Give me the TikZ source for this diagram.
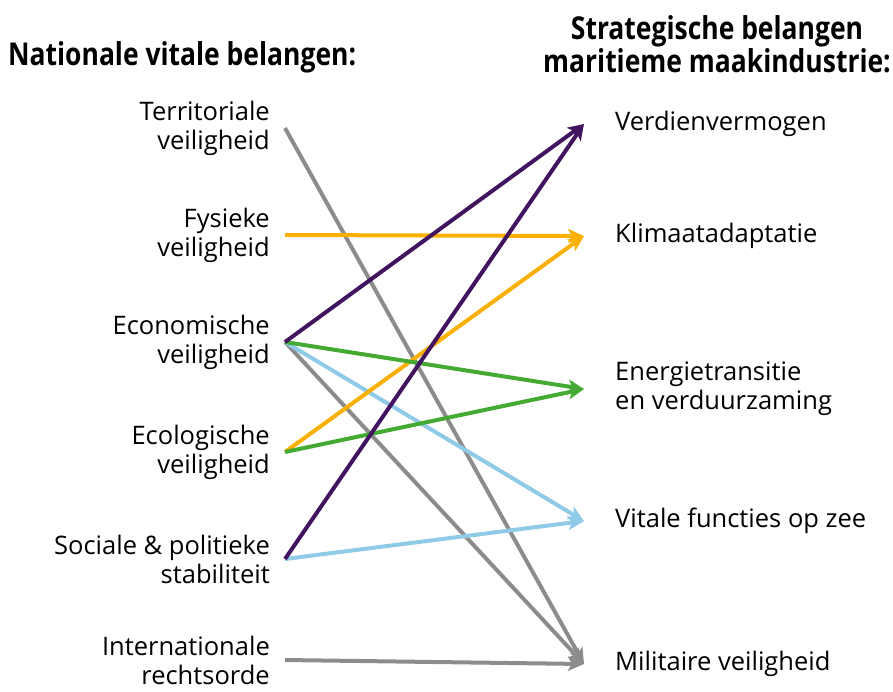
\documentclass[tikz,border=0pt]{standalone}
\usepackage{fontspec}
\setmainfont{Open Sans}
\usepackage{xcolor}
\usetikzlibrary{arrows.meta,positioning,calc}
\definecolor{rpurple}{HTML}{42145F}
\definecolor{rorange}{HTML}{F9B000}
\definecolor{rgreen}{HTML}{44AA33}
\definecolor{rblue}{HTML}{8FCAE7}
\definecolor{rgray}{HTML}{8C8C8C}
\tikzset{%
  vital/.style={
    anchor=east,
    align=right,
    inner xsep=15pt,
    inner ysep=0pt,
    font=\fontsize{25.5}{29}\selectfont
  },
  belang/.style={
    anchor=west,
    align=left,
    inner xsep=31pt,
    inner ysep=0pt,
    font=\fontsize{25.5}{29}\selectfont
  },
  kop/.style={
    align=center,
    inner sep=0pt,
    font=\fontsize{31.5}{30}\selectfont\bfseries
  },
  link/.style={
    line width=4pt,
    -{Stealth[length=16pt,width=14pt,inset=4pt]}
  },
}
\begin{document}
\begin{tikzpicture}[x=1pt,y=-1pt]
  \useasboundingbox (0,0) rectangle (893,691);
  % headings
  \node[kop,anchor=west] (kopL) at (8,57) {\scalebox{0.84}[1]{Nationale vitale belangen:}};
  \node[kop,anchor=east] (kopR) at (891,44) {\scalebox{0.84}[1]{Strategische belangen}\\\scalebox{0.84}[1]{maritieme maakindustrie:}};
  % national vital interests
  \node[vital] (ter) at (285,128) {Territoriale\\veiligheid};
  \node[vital] (fys) at (285,235) {Fysieke\\veiligheid};
  \node[vital] (eco) at (285,342) {Economische\\veiligheid};
  \node[vital] (ecl) at (285,452) {Ecologische\\veiligheid};
  \node[vital] (soc) at (285,559) {Sociale \& politieke\\stabiliteit};
  \node[vital] (int) at (285,660) {Internationale\\rechtsorde};
  % strategic interests
  \node[belang] (ver) at (584,124) {Verdienvermogen};
  \node[belang] (kli) at (584,236) {Klimaatadaptatie};
  \node[belang] (ene) at (584,389) {Energietransitie\\en verduurzaming};
  \node[belang] (vit) at (584,521) {Vitale functies op zee};
  \node[belang] (mil) at (584,664) {Militaire veiligheid};
  % links
  \draw[link,rgray] (ter.east) -- (mil.west);
  \draw[link,rgray] (eco.east) -- (mil.west);
  \draw[link,rgray] (int.east) -- (mil.west);
  \draw[link,rblue] (eco.east) -- (vit.west);
  \draw[link,rblue] (soc.east) -- (vit.west);
  \draw[link,rorange] (fys.east) -- (kli.west);
  \draw[link,rorange] (ecl.east) -- (kli.west);
  \draw[link,rgreen] (eco.east) -- (ene.west);
  \draw[link,rgreen] (ecl.east) -- (ene.west);
  \draw[link,rpurple] (eco.east) -- (ver.west);
  \draw[link,rpurple] (soc.east) -- (ver.west);
\end{tikzpicture}
\end{document}
